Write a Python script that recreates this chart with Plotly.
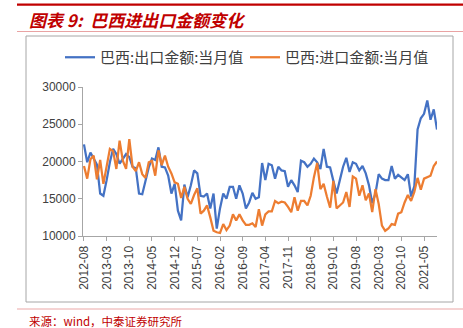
import plotly.graph_objects as go
import pandas as pd

# ---------------- data ----------------
months = pd.date_range("2012-08-01", periods=110, freq="MS").strftime("%Y-%m").tolist()

tick_labels = ["2012-08", "2013-03", "2013-10", "2014-05", "2014-12", "2015-07",
               "2016-02", "2016-09", "2017-04", "2017-11", "2018-06", "2019-01",
               "2019-08", "2020-03", "2020-10", "2021-05"]

exports = [22300, 19900, 21200, 20400, 19600, 15700, 15400, 17500, 19900, 21700,
           21000, 19700, 20400, 21000, 20600, 19300, 19100, 15700, 15600, 17500,
           19200, 20400, 20200, 21900, 19300, 19200, 18100, 15700, 17000, 13400,
           12100, 16900, 15200, 16800, 18800, 18400, 15400, 15300, 15700, 13700,
           15700, 11000, 13700, 15700, 15000, 16600, 16600, 15000, 16800, 15700,
           13700, 14500, 15800, 15000, 15200, 19800, 17500, 19700, 19500, 17700,
           19300, 18800, 18700, 16600, 17500, 16800, 15900, 20100, 19900, 19300,
           19700, 20400, 19900, 19000, 21700, 19300, 19200, 17400, 15700, 17500,
           19300, 20500, 18600, 19900, 19700, 18800, 19400, 18400, 16800, 14400,
           15700, 18300, 17700, 17500, 17500, 19400, 17700, 18200, 17900, 17500,
           18300, 15300, 16700, 24300, 25800, 26400, 28200, 25600, 27000, 24300]

imports = [19400, 17700, 20300, 20800, 17600, 20200, 17000, 19500, 21700, 21400,
           19000, 22800, 20100, 19000, 23000, 19300, 18700, 19900, 18300, 17800,
           19900, 20100, 18100, 21500, 19500, 20800, 19300, 18400, 17200, 17000,
           15100, 16600, 15000, 14300, 15500, 16400, 13000, 13400, 14100, 12500,
           10700, 10500, 10400, 11600, 10800, 11400, 12900, 12100, 12900, 12100,
           11500, 11500, 11700, 11200, 13600, 11400, 12900, 13300, 13300, 14700,
           14400, 14600, 14500, 13900, 13200, 15200, 13400, 14700, 14700, 14100,
           15400, 17900, 19800, 16300, 17000, 15300, 13800, 17400, 13700, 14100,
           14500, 15900, 13900, 18000, 17700, 15400, 16800, 14800, 15700, 13200,
           16300, 14300, 11400, 10700, 11000, 11600, 11500, 13000, 13200, 14500,
           15500, 14700, 15900, 17800, 16200, 17700, 17900, 18100, 19400, 20000]

# ---------------- layout geometry ----------------
W, H = 463, 328
L, R, T, B = 83, 26, 87, 92
PW, PH = W - L - R, H - T - B


def px(x):
    return (x - L) / PW


def py(y):
    return (H - B - y) / PH


fig = go.Figure()
fig.add_trace(go.Scatter(x=months, y=exports, mode="lines", name="巴西:出口金额:当月值",
                         line=dict(color="#4472C4", width=2.25)))
fig.add_trace(go.Scatter(x=months, y=imports, mode="lines", name="巴西:进口金额:当月值",
                         line=dict(color="#ED7D31", width=2.25)))

shapes = [
    dict(type="line", xref="paper", yref="paper", x0=px(17), x1=px(463), y0=py(4.7), y1=py(4.7),
         line=dict(color="#C00000", width=2.2)),
    dict(type="line", xref="paper", yref="paper", x0=px(17), x1=px(463), y0=py(31.5), y1=py(31.5),
         line=dict(color="#E9A3A3", width=1)),
    dict(type="rect", xref="paper", yref="paper", x0=px(26), x1=px(453), y0=py(36), y1=py(302),
         line=dict(color="#A6A6A6", width=1), fillcolor="rgba(0,0,0,0)", layer="below"),
    dict(type="line", xref="paper", yref="paper", x0=px(17), x1=px(463), y0=py(309), y1=py(309),
         line=dict(color="#F2C4C4", width=1.5)),
]

annotations = [
    dict(text="<b><i>图表 9:  巴西进出口金额变化</i></b>", xref="paper", yref="paper",
         x=px(27), y=py(19.5), xanchor="left", yanchor="middle", showarrow=False,
         font=dict(family="Noto Sans CJK SC", size=17, color="#C00000")),
    dict(text="来源：wind，中泰证券研究所", xref="paper", yref="paper",
         x=px(27), y=py(321), xanchor="left", yanchor="middle", showarrow=False,
         font=dict(family="Noto Sans CJK SC", size=11.5, color="#C00000")),
]

fig.update_layout(
    width=W, height=H,
    margin=dict(l=L, r=R, t=T, b=B),
    paper_bgcolor="white", plot_bgcolor="white",
    shapes=shapes, annotations=annotations,
    showlegend=True,
    legend=dict(orientation="h", x=px(60), y=py(41), xanchor="left", yanchor="top",
                font=dict(family="Noto Sans CJK SC", size=15, color="#404040"),
                itemwidth=30, entrywidth=140, entrywidthmode="pixels",
                bgcolor="rgba(0,0,0,0)", traceorder="normal"),
    xaxis=dict(type="category", range=[-0.3, 109], tickmode="array", tickvals=tick_labels,
               ticktext=tick_labels, tickangle=-90, showgrid=False, showline=True,
               linecolor="#A6A6A6", linewidth=1, ticks="outside", ticklen=4, tickcolor="#A6A6A6",
               tickfont=dict(family="Liberation Sans", size=12, color="#404040"), zeroline=False),
    yaxis=dict(range=[10000, 30000], dtick=5000, tickformat="d", showgrid=False, showline=True,
               linecolor="#A6A6A6", linewidth=1, ticks="outside", ticklen=4, tickcolor="#A6A6A6",
               tickfont=dict(family="Liberation Sans", size=12, color="#404040"), zeroline=False),
)

fig.write_html("out.html")
